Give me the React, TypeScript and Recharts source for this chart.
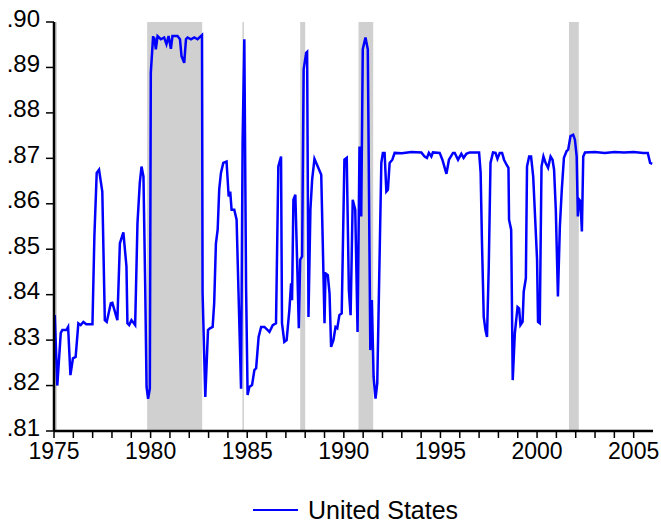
import React from "react";
import {
  LineChart, Line, XAxis, YAxis, ReferenceArea, Legend
} from "recharts";

// decimal years and values
const dates = [
  1975.04, 1975.17, 1975.35, 1975.43, 1975.64, 1975.73, 1975.85, 1975.98, 1976.12, 1976.26, 1976.38, 1976.52, 1976.67, 1976.99,
  1977.09, 1977.21, 1977.33, 1977.5, 1977.63, 1977.73, 1977.94, 1978.02, 1978.28, 1978.41, 1978.59, 1978.75, 1978.8, 1978.89, 1979.01, 1979.2,
  1979.32, 1979.44, 1979.53, 1979.63, 1979.72, 1979.79, 1979.87, 1979.96,
  1980.01, 1980.13, 1980.16, 1980.19, 1980.27, 1980.36, 1980.53, 1980.7, 1980.82, 1980.93, 1981.05, 1981.13, 1981.39, 1981.52, 1981.6, 1981.74, 1981.83, 1981.91, 1982.09, 1982.26, 1982.43, 1982.66,
  1982.69, 1982.83, 1982.97, 1983.07, 1983.21, 1983.29, 1983.38, 1983.47, 1983.55, 1983.64, 1983.76, 1983.93, 1984.04,
  1984.12, 1984.19, 1984.33, 1984.45, 1984.55, 1984.68, 1984.76, 1984.85, 1984.94, 1985.02, 1985.11,
  1985.25, 1985.37, 1985.46, 1985.59, 1985.72, 1985.89, 1986.15, 1986.32, 1986.49,
  1986.61, 1986.75, 1986.8, 1986.92, 1987.04, 1987.18, 1987.27, 1987.32, 1987.39, 1987.49, 1987.58, 1987.67, 1987.74, 1987.84,
  1987.92, 1988.05, 1988.1, 1988.17, 1988.27, 1988.36, 1988.48, 1988.65, 1988.83, 1988.91, 1989.0,
  1989.05, 1989.17, 1989.26, 1989.34, 1989.46, 1989.57, 1989.66, 1989.77, 1989.89,
  1990.03, 1990.15, 1990.26, 1990.35, 1990.46, 1990.59, 1990.71, 1990.81, 1990.9, 1990.98, 1991.12, 1991.24, 1991.37, 1991.45, 1991.54, 1991.64, 1991.73,
  1991.94, 1992.02, 1992.11, 1992.2, 1992.28, 1992.37, 1992.51, 1992.63, 1993.0, 1993.5, 1994.01, 1994.18, 1994.3, 1994.4, 1994.53, 1994.61, 1994.96, 1995.1, 1995.31, 1995.44, 1995.65, 1995.74, 1995.91, 1996.08, 1996.2, 1996.34, 1996.51,
  1997.0, 1997.08, 1997.15, 1997.24, 1997.33, 1997.41, 1997.5, 1997.59, 1997.72, 1997.85, 1997.95, 1998.07, 1998.19, 1998.29, 1998.42, 1998.52, 1998.55, 1998.66, 1998.74, 1998.85, 1998.99, 1999.07, 1999.14,
  1999.25, 1999.31, 1999.42, 1999.48, 1999.59, 1999.69, 1999.8, 1999.88, 2000.0, 2000.05, 2000.14, 2000.23, 2000.33, 2000.44, 2000.57, 2000.7, 2000.8, 2000.88, 2000.97,
  2001.08, 2001.18, 2001.28, 2001.39, 2001.53, 2001.61, 2001.73, 2001.87, 2001.96, 2002.05, 2002.11, 2002.18, 2002.25, 2002.32, 2002.39, 2002.48, 2003.0, 2003.5, 2004.0, 2004.5, 2005.0, 2005.5, 2005.73, 2005.85, 2005.96,
];

const unitedStates = [
  .8355, .8200, .8316, .8322, .8322, .8329, .8223, .8260, .8263, .8337, .8333, .8340, .8335, .8335,
  .8528, .8668, .8675, .8627, .8344, .8340, .8381, .8382, .8344, .8513, .8537, .8462, .8337, .8333, .8344, .8333,
  .8557, .8646, .8682, .8660, .8418, .8197, .8171, .8193,
  .8888, .8969, .8955, .8966, .8940, .8969, .8962, .8966, .8951, .8969, .8941, .8969, .8969, .8962, .8925, .8910, .8962, .8966, .8962, .8966, .8962, .8971,
  .8403, .8175, .8322, .8326, .8329, .8381, .8513, .8543, .8631, .8668, .8690, .8693, .8616,
  .8627, .8587, .8587, .8565, .8403, .8193, .8734, .8962, .8418, .8179, .8197,
  .8201, .8234, .8238, .8307, .8329, .8329, .8318, .8333, .8337,
  .8682, .8704, .8337, .8296, .8300, .8366, .8425, .8388, .8609, .8620, .8477, .8326, .8477, .8484,
  .8896, .8932, .8934, .8351, .8587, .8653, .8699, .8682, .8664, .8513, .8337,
  .8447, .8443, .8403, .8285, .8300, .8329, .8326, .8355, .8359,
  .8697, .8701, .8410, .8355, .8609, .8587, .8318, .8726, .8572, .8940, .8966, .8940, .8278, .8388, .8219, .8171, .8205,
  .8690, .8712, .8712, .8627, .8631, .8690, .8697, .8712, .8711, .8714, .8713, .8704, .8701, .8712, .8704, .8713, .8712, .8697, .8666, .8697, .8712, .8712, .8697, .8710, .8701, .8710, .8713,
  .8713, .8668, .8513, .8351, .8322, .8307, .8462, .8690, .8713, .8712, .8699, .8712, .8712, .8697, .8686, .8679, .8565, .8543, .8212, .8315, .8373, .8370, .8333,
  .8340, .8407, .8436, .8682, .8704, .8704, .8660, .8587, .8477, .8340, .8337, .8682, .8704, .8690, .8679, .8704, .8697, .8675, .8587,
  .8396, .8550, .8631, .8701, .8716, .8719, .8749, .8752, .8741, .8704, .8572, .8609, .8605, .8539, .8704, .8713, .8714, .8712, .8714, .8713, .8714, .8712, .8712, .8690, .8688,
];

// grey shaded periods
const shadeFrom = [1975.05, 1979.82, 1984.75, 1987.74, 1990.76, 2001.65];
const shadeTo = [1975.15, 1982.67, 1984.83, 1988.0, 1991.52, 2002.16];

const yTicks = [0.81, 0.82, 0.83, 0.84, 0.85, 0.86, 0.87, 0.88, 0.89, 0.9];
const xTicks = [
  1975, 1976, 1977, 1978, 1979, 1980, 1981, 1982, 1983, 1984, 1985, 1986, 1987, 1988, 1989, 1990,
  1991, 1992, 1993, 1994, 1995, 1996, 1997, 1998, 1999, 2000, 2001, 2002, 2003, 2004, 2005,
];
const xLabels = [1975, 1980, 1985, 1990, 1995, 2000, 2005];

const rows = dates.map((t, i) => ({ t, us: unitedStates[i] }));

const FONT = "'Liberation Sans', Arial, sans-serif";
const BLUE = "#0000ff";

function LegendBox() {
  return (
    <div style={{ display: "flex", alignItems: "center", height: 30, paddingLeft: 253, fontFamily: FONT }}>
      <span style={{ display: "inline-block", width: 45, height: 2, background: BLUE }} />
      <span style={{ marginLeft: 10, fontSize: 25, color: "#000" }}>United States</span>
    </div>
  );
}

export default function App() {
  return (
    <div style={{ position: "absolute", left: 0, top: 0, background: "#fff" }}>
      <LineChart width={661} height={527} data={rows} margin={{ top: 22, right: 8, bottom: 2, left: 0 }}>
        {shadeFrom.map((x1, i) => (
          <ReferenceArea key={i} x1={x1} x2={shadeTo[i]} fill="#d0d0d0" fillOpacity={1} stroke="none" />
        ))}
        <XAxis
          dataKey="t"
          type="number"
          domain={[1975, 2006]}
          ticks={xTicks}
          interval={0}
          height={64}
          tickSize={7}
          tickMargin={5}
          tickFormatter={(v) => (xLabels.includes(v) ? String(v) : "")}
          tick={{ fill: "#000", fontSize: 23, fontFamily: FONT }}
          tickLine={{ stroke: "#000", strokeWidth: 1.5 }}
          axisLine={{ stroke: "#000", strokeWidth: 2.5 }}
        />
        <XAxis xAxisId="top" orientation="top" type="number" domain={[1975, 2006]} height={0}
          tick={false} tickLine={false} axisLine={{ stroke: "#000", strokeWidth: 2 }} />
        <YAxis
          type="number"
          domain={[0.81, 0.9]}
          ticks={yTicks}
          interval={0}
          width={54}
          tickSize={8}
          tickMargin={6}
          tickFormatter={(v) => v.toFixed(2).slice(1)}
          tick={{ fill: "#000", fontSize: 24, fontFamily: FONT, dy: -4 }}
          tickLine={{ stroke: "#000", strokeWidth: 1.5 }}
          axisLine={{ stroke: "#000", strokeWidth: 2.5 }}
        />
        <YAxis yAxisId="right" orientation="right" type="number" domain={[0.81, 0.9]} width={0}
          tick={false} tickLine={false} axisLine={{ stroke: "#000", strokeWidth: 2 }} />
        <Line
          type="linear"
          dataKey="us"
          name="United States"
          stroke={BLUE}
          strokeWidth={2.5}
          dot={false}
          isAnimationActive={false}
        />
        <Legend verticalAlign="bottom" content={() => <LegendBox />} wrapperStyle={{ left: 0, width: 661 }} />
      </LineChart>
    </div>
  );
}
